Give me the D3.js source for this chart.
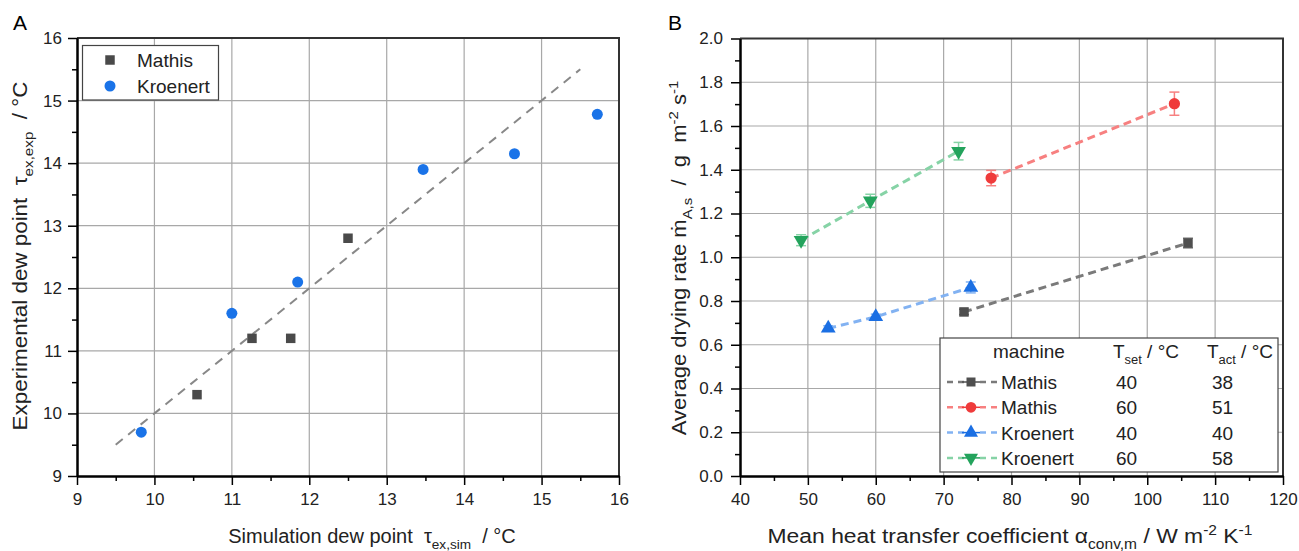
<!DOCTYPE html>
<html>
<head>
<meta charset="utf-8">
<script src="https://cdn.jsdelivr.net/npm/d3@7"></script>
<style>
  body { margin: 0; background: #fff; }
  svg { font-family: 'Liberation Sans', Arial, sans-serif; display: block; }
  svg text { white-space: pre; }
  .axis .domain { stroke: #000; stroke-width: 2; }
  .axis line { stroke: #000; stroke-width: 1.5; }
  .axis text { font-size: 17px; fill: #222; }
  .grid line { stroke: #a8a8a8; stroke-width: 1.2; }
  .title { fill: #222; }
  .legend text { font-size: 19px; fill: #222; }
</style>
</head>
<body>
<div id="svg-container"></div>
<script>
/* global d3 */
(function () {
  'use strict'

  // Panel A: dew point, simulation vs experiment
  var mathisSim = [10.55, 11.26, 11.76, 12.5]
  var mathisExp = [10.3, 11.2, 11.2, 12.8]
  var kroenertSim = [9.83, 11.0, 11.85, 13.47, 14.65, 15.72]
  var kroenertExp = [9.7, 11.6, 12.1, 13.9, 14.15, 14.78]
  var parityLine = [9.5, 15.5]
  var dewTicks = [9, 10, 11, 12, 13, 14, 15, 16]
  var dewMinor = [9.5, 10.5, 11.5, 12.5, 13.5, 14.5, 15.5]

  // Panel B: drying rate vs heat transfer coefficient
  var seriesNames = ['Mathis', 'Mathis', 'Kroenert', 'Kroenert']
  var tSet = [40, 60, 40, 60]
  var tAct = [38, 51, 40, 58]
  var alpha = [[73, 106], [77, 104], [53, 60, 74], [49, 59.2, 72.2]]
  var rate = [[0.75, 1.065], [1.362, 1.702], [0.675, 0.728, 0.862], [1.078, 1.258, 1.485]]
  var rateErr = [[0.012, 0.022], [0.035, 0.053], [0.012, 0.012, 0.025], [0.025, 0.03, 0.04]]
  var alphaTicks = [40, 50, 60, 70, 80, 90, 100, 110, 120]
  var alphaMinor = [45, 55, 65, 75, 85, 95, 105, 115]
  var rateTicks = [0, 0.2, 0.4, 0.6, 0.8, 1.0, 1.2, 1.4, 1.6, 1.8, 2.0]
  var rateMinor = [0.1, 0.3, 0.5, 0.7, 0.9, 1.1, 1.3, 1.5, 1.7, 1.9]

  var markerColor = ['#4f4f4f', '#ef3b3b', '#1b6fe3', '#23a35c']
  var lineColor = ['#7a7a7a', '#f78080', '#82b2f2', '#86d3a6']
  var markerShape = [d3.symbolSquare, d3.symbolCircle, d3.symbolTriangle, d3.symbolTriangle]
  var markerSize = [90, 100, 95, 95]
  var markerRot = [0, 0, 0, 180]

  var svg = d3.select('#svg-container').append('svg')
    .attr('width', 1299)
    .attr('height', 551)

  // writes text with sub/superscript pieces: [text, 'n' | 'sub' | 'sup']
  function richText (sel, parts, size) {
    var cur = 0
    sel.attr('font-size', size)
    parts.forEach(function (p) {
      var target = p[1] === 'sub' ? size * 0.3 : (p[1] === 'sup' ? -size * 0.4 : 0)
      sel.append('tspan')
        .attr('dy', target - cur)
        .attr('font-size', p[1] === 'n' ? size : size * 0.68)
        .text(p[0])
      cur = target
    })
    return sel
  }

  function drawFrame (g, sx, sy, xMajor, xMinor, yMajor, yMinor, xFmt, yFmt, yPad) {
    var w = sx.range()[1]
    var h = sy.range()[0]

    g.append('g').attr('class', 'grid').selectAll('line.x').data(xMajor.slice(1, -1)).join('line')
      .attr('x1', function (d) { return sx(d) }).attr('x2', function (d) { return sx(d) })
      .attr('y1', 0).attr('y2', h)
    g.append('g').attr('class', 'grid').selectAll('line.y').data(yMajor.slice(1, -1)).join('line')
      .attr('y1', function (d) { return sy(d) }).attr('y2', function (d) { return sy(d) })
      .attr('x1', 0).attr('x2', w)

    // top and right border
    g.append('path')
      .attr('d', 'M0,0H' + w + 'V' + h)
      .attr('fill', 'none').attr('stroke', '#333').attr('stroke-width', 2)

    g.append('g').attr('class', 'axis').attr('transform', 'translate(0,' + h + ')')
      .call(d3.axisBottom(sx).tickValues(xMinor).tickSize(5).tickSizeOuter(0).tickFormat(''))
    g.append('g').attr('class', 'axis').attr('transform', 'translate(0,' + h + ')')
      .call(d3.axisBottom(sx).tickValues(xMajor).tickSize(9).tickSizeOuter(0).tickPadding(8).tickFormat(xFmt))
    g.append('g').attr('class', 'axis')
      .call(d3.axisLeft(sy).tickValues(yMinor).tickSize(5).tickSizeOuter(0).tickFormat(''))
    g.append('g').attr('class', 'axis')
      .call(d3.axisLeft(sy).tickValues(yMajor).tickSize(9).tickSizeOuter(0).tickPadding(yPad).tickFormat(yFmt))
  }

  // ---------- Panel A ----------
  var gA = svg.append('g').attr('transform', 'translate(77,38)')
  var xA = d3.scaleLinear().domain([9, 16]).range([0, 542])
  var yA = d3.scaleLinear().domain([9, 16]).range([438, 0])
  drawFrame(gA, xA, yA, dewTicks, dewMinor, dewTicks, dewMinor, d3.format('d'), d3.format('d'), 6)

  gA.append('line')
    .attr('x1', xA(parityLine[0])).attr('y1', yA(parityLine[0]))
    .attr('x2', xA(parityLine[1])).attr('y2', yA(parityLine[1]))
    .attr('stroke', '#888').attr('stroke-width', 2).attr('stroke-dasharray', '9,7')

  gA.selectAll('.mathis').data(mathisSim).join('path')
    .attr('class', 'mathis')
    .attr('transform', function (d, i) { return 'translate(' + xA(d) + ',' + yA(mathisExp[i]) + ')' })
    .attr('d', d3.symbol(d3.symbolSquare, 90))
    .attr('fill', '#4a4a4a')
  gA.selectAll('.kroenert').data(kroenertSim).join('circle')
    .attr('class', 'kroenert')
    .attr('cx', function (d) { return xA(d) })
    .attr('cy', function (d, i) { return yA(kroenertExp[i]) })
    .attr('r', 5.5)
    .attr('fill', '#1a73e8')

  var legA = svg.append('g').attr('class', 'legend')
  legA.append('rect').attr('x', 82.5).attr('y', 45.5).attr('width', 136).attr('height', 54.5)
    .attr('fill', '#fff').attr('stroke', '#444').attr('stroke-width', 1.2)
  legA.append('path').attr('transform', 'translate(110,60)')
    .attr('d', d3.symbol(d3.symbolSquare, 90)).attr('fill', '#4a4a4a')
  legA.append('circle').attr('cx', 110).attr('cy', 86).attr('r', 5.5).attr('fill', '#1a73e8')
  legA.append('text').attr('x', 137).attr('y', 66.5).text('Mathis')
  legA.append('text').attr('x', 137).attr('y', 92.5).text('Kroenert')

  richText(svg.append('text').attr('class', 'title').attr('text-anchor', 'middle')
    .attr('transform', 'translate(372,543)'),
  [['Simulation dew point  \u03c4', 'n'], ['ex,sim', 'sub'], ['  / \u00b0C', 'n']], 20)
  richText(svg.append('text').attr('class', 'title').attr('text-anchor', 'middle')
    .attr('transform', 'translate(27,256) rotate(-90) scale(1.12,1)'),
  [['Experimental dew point  \u03c4', 'n'], ['ex,exp', 'sub'], ['  / \u00b0C', 'n']], 20)
  svg.append('text').attr('x', 13).attr('y', 30).attr('font-size', 21).text('A')

  // ---------- Panel B ----------
  var gB = svg.append('g').attr('transform', 'translate(740,38.5)')
  var xB = d3.scaleLinear().domain([40, 120]).range([0, 543])
  var yB = d3.scaleLinear().domain([0, 2]).range([437.5, 0])
  drawFrame(gB, xB, yB, alphaTicks, alphaMinor, rateTicks, rateMinor, d3.format('d'), d3.format('.1f'), 8)

  var line = d3.line()
    .x(function (d) { return xB(d[0]) })
    .y(function (d) { return yB(d[1]) })

  alpha.forEach(function (xs, s) {
    var pts = xs.map(function (x, i) { return [x, rate[s][i], rateErr[s][i]] })
    var g = gB.append('g')
    g.append('path').datum(pts)
      .attr('d', line)
      .attr('fill', 'none').attr('stroke', lineColor[s])
      .attr('stroke-width', 3).attr('stroke-dasharray', '8,5')
    var eb = g.selectAll('.err').data(pts).join('g').attr('class', 'err')
      .attr('stroke', lineColor[s]).attr('stroke-width', 1.5)
    eb.append('line')
      .attr('x1', function (d) { return xB(d[0]) }).attr('x2', function (d) { return xB(d[0]) })
      .attr('y1', function (d) { return yB(d[1] + d[2]) }).attr('y2', function (d) { return yB(d[1] - d[2]) })
    eb.append('line')
      .attr('x1', function (d) { return xB(d[0]) - 5 }).attr('x2', function (d) { return xB(d[0]) + 5 })
      .attr('y1', function (d) { return yB(d[1] + d[2]) }).attr('y2', function (d) { return yB(d[1] + d[2]) })
    eb.append('line')
      .attr('x1', function (d) { return xB(d[0]) - 5 }).attr('x2', function (d) { return xB(d[0]) + 5 })
      .attr('y1', function (d) { return yB(d[1] - d[2]) }).attr('y2', function (d) { return yB(d[1] - d[2]) })
    g.selectAll('.pt').data(pts).join('path').attr('class', 'pt')
      .attr('transform', function (d) {
        return 'translate(' + xB(d[0]) + ',' + yB(d[1]) + ') rotate(' + markerRot[s] + ')'
      })
      .attr('d', d3.symbol(markerShape[s], markerSize[s]))
      .attr('fill', markerColor[s])
  })

  var legB = svg.append('g').attr('class', 'legend')
  legB.append('rect').attr('x', 940).attr('y', 338).attr('width', 338).attr('height', 134)
    .attr('fill', '#fff').attr('stroke', '#444').attr('stroke-width', 1.2)
  legB.append('text').attr('x', 993).attr('y', 358).attr('font-size', 18).text('machine')
  richText(legB.append('text').attr('x', 1113).attr('y', 358), [['T', 'n'], ['set', 'sub'], [' / \u00b0C', 'n']], 19)
  richText(legB.append('text').attr('x', 1207).attr('y', 358), [['T', 'n'], ['act', 'sub'], [' / \u00b0C', 'n']], 19)
  seriesNames.forEach(function (name, s) {
    var cy = 382 + s * 25.3
    legB.append('line').attr('x1', 947).attr('x2', 997).attr('y1', cy).attr('y2', cy)
      .attr('stroke', lineColor[s]).attr('stroke-width', 2.5).attr('stroke-dasharray', '6,5')
    legB.append('line').attr('x1', 962).attr('x2', 980).attr('y1', cy).attr('y2', cy)
      .attr('stroke', markerColor[s]).attr('stroke-width', 1.5)
    legB.append('path')
      .attr('transform', 'translate(971,' + cy + ') rotate(' + markerRot[s] + ')')
      .attr('d', d3.symbol(markerShape[s], markerSize[s] * 0.9))
      .attr('fill', markerColor[s])
    legB.append('text').attr('x', 1001).attr('y', cy + 7).text(name)
    legB.append('text').attr('x', 1116).attr('y', cy + 7).text(tSet[s])
    legB.append('text').attr('x', 1212).attr('y', cy + 7).text(tAct[s])
  })

  richText(svg.append('text').attr('class', 'title').attr('text-anchor', 'middle')
    .attr('transform', 'translate(1010,543) scale(1.09,1)'),
  [['Mean heat transfer coefficient \u03b1', 'n'], ['conv,m', 'sub'], [' / W m', 'n'], ['-2', 'sup'], [' K', 'n'], ['-1', 'sup']], 21)
  richText(svg.append('text').attr('class', 'title').attr('text-anchor', 'middle')
    .attr('transform', 'translate(686,258) rotate(-90) scale(1.1,1)'),
  [['Average drying rate \u1e41', 'n'], ['A,s', 'sub'], ['  /  g  m', 'n'], ['-2', 'sup'], [' s', 'n'], ['-1', 'sup']], 20)
  svg.append('text').attr('x', 668).attr('y', 30).attr('font-size', 21).text('B')
}())
</script>
</body>
</html>
